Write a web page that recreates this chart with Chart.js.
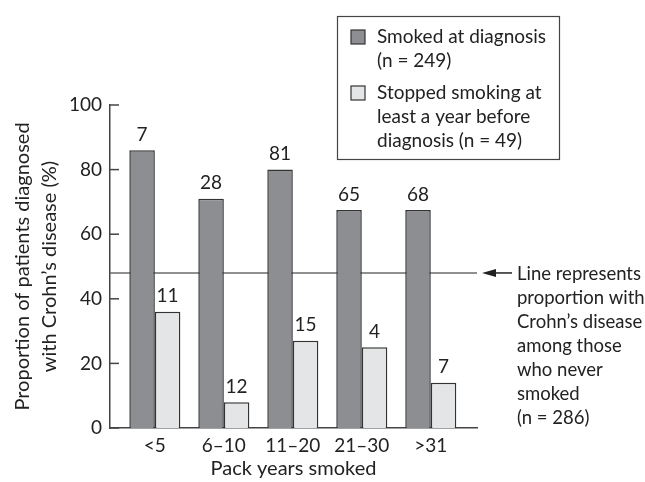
<!DOCTYPE html>
<html>
<head>
<meta charset="utf-8">
<script src="https://cdn.jsdelivr.net/npm/chart.js@4.4.1/dist/chart.umd.min.js"></script>
<style>
  html, body { margin: 0; padding: 0; background: #fff; }
  #wrap { width: 645px; height: 482px; }
</style>
</head>
<body>
<div id="wrap"><canvas id="chart"></canvas></div>
<script>
const categories = ['<5', '6–10', '11–20', '21–30', '>31'];
const smokedAtDiagnosis = [86, 71, 80, 67.5, 67.5];
const stoppedSmoking = [36, 8, 27, 25, 14];
const smokedCounts = [7, 28, 81, 65, 68];
const stoppedCounts = [11, 12, 15, 4, 7];
const neverSmoked = 48;
const legendText = [
    ['Smoked at diagnosis', '(n = 249)'],
    ['Stopped smoking at', 'least a year before', 'diagnosis (n = 49)']
];
const noteText = ['Line represents', 'proportion with', 'Crohn’s disease', 'among those', 'who never', 'smoked', '(n = 286)'];

const FONT = 'Lato';
const darkFill = '#8d8e92';
const lightFill = '#e4e5e7';
const ink = '#222';

// horizontal reference line, drawn behind the bars
const refLine = {
    id: 'refLine',
    beforeDatasetsDraw(chart) {
        const { ctx, chartArea, scales } = chart;
        const y = scales.y.getPixelForValue(neverSmoked);
        ctx.save();
        ctx.strokeStyle = '#6b6b6b';
        ctx.lineWidth = 1.5;
        ctx.beginPath();
        ctx.moveTo(chartArea.left, y);
        ctx.lineTo(chartArea.right, y);
        ctx.stroke();
        ctx.restore();
    },
    afterDraw(chart) {
        const { ctx, chartArea, scales } = chart;
        const y = scales.y.getPixelForValue(neverSmoked);
        const x0 = chartArea.right + 5;
        ctx.save();
        // arrow
        ctx.strokeStyle = ink;
        ctx.fillStyle = ink;
        ctx.lineWidth = 1.5;
        ctx.beginPath();
        ctx.moveTo(x0 + 12, y);
        ctx.lineTo(x0 + 30, y);
        ctx.stroke();
        ctx.beginPath();
        ctx.moveTo(x0, y);
        ctx.lineTo(x0 + 14, y - 4);
        ctx.lineTo(x0 + 14, y + 4);
        ctx.closePath();
        ctx.fill();
        // note text
        ctx.font = '18.5px ' + FONT;
        ctx.textBaseline = 'middle';
        ctx.textAlign = 'left';
        noteText.forEach((t, i) => ctx.fillText(t, x0 + 35, y + 1 + i * 24));
        ctx.restore();
    }
};

// inward tick marks on the y axis
const yTickMarks = {
    id: 'yTickMarks',
    afterDraw(chart) {
        const { ctx, chartArea, scales } = chart;
        ctx.save();
        ctx.strokeStyle = '#444';
        ctx.lineWidth = 1.5;
        scales.y.ticks.forEach(t => {
            const y = scales.y.getPixelForValue(t.value);
            ctx.beginPath();
            ctx.moveTo(chartArea.left, y);
            ctx.lineTo(chartArea.left + 9, y);
            ctx.stroke();
        });
        ctx.restore();
    }
};

// patient counts above each bar
const barLabels = {
    id: 'barLabels',
    afterDatasetsDraw(chart) {
        const { ctx } = chart;
        const counts = [smokedCounts, stoppedCounts];
        ctx.save();
        ctx.font = '19px ' + FONT;
        ctx.fillStyle = ink;
        ctx.textAlign = 'center';
        ctx.textBaseline = 'bottom';
        chart.data.datasets.forEach((ds, d) => {
            chart.getDatasetMeta(d).data.forEach((bar, i) => {
                ctx.fillText(String(counts[d][i]), bar.x, bar.y - 6);
            });
        });
        ctx.restore();
    }
};

// boxed legend with wrapped lines
const legendBox = {
    id: 'legendBox',
    afterDraw(chart) {
        const { ctx } = chart;
        const fills = [darkFill, lightFill];
        ctx.save();
        ctx.strokeStyle = '#444';
        ctx.lineWidth = 1.2;
        ctx.strokeRect(337.5, 16.5, 222, 143);
        ctx.font = '19px ' + FONT;
        ctx.fillStyle = ink;
        ctx.textBaseline = 'middle';
        let y = 37;
        legendText.forEach((lines, k) => {
            ctx.fillStyle = fills[k];
            ctx.fillRect(351, y - 7, 14, 14);
            ctx.strokeStyle = '#333';
            ctx.strokeRect(351, y - 7, 14, 14);
            ctx.fillStyle = ink;
            lines.forEach((t, i) => ctx.fillText(t, 377, y + i * 24));
            y += lines.length * 24 + 8;
        });
        ctx.restore();
    }
};

const ctx = document.getElementById('chart').getContext('2d');
new Chart(ctx, {
    type: 'bar',
    data: {
        datasets: [{
            label: legendText[0].join(' '),
            data: smokedAtDiagnosis.map((v, i) => ({ x: i, y: v })),
            backgroundColor: darkFill,
            borderColor: '#333',
            borderWidth: 1.5
        }, {
            label: legendText[1].join(' '),
            data: stoppedSmoking.map((v, i) => ({ x: i, y: v })),
            backgroundColor: lightFill,
            borderColor: '#333',
            borderWidth: 1.5
        }]
    },
    options: {
        responsive: true,
        maintainAspectRatio: false,
        animation: false,
        categoryPercentage: 0.74,
        barPercentage: 1,
        layout: { padding: { top: 105, right: 168, bottom: 0, left: 0 } },
        plugins: {
            legend: { display: false },
            tooltip: { enabled: false }
        },
        scales: {
            x: {
                type: 'linear',
                offset: false,
                min: -0.65,
                max: 4.67,
                afterBuildTicks: s => { s.ticks = categories.map((c, i) => ({ value: i })); },
                afterFit: s => { s.height = 54; },
                grid: { display: false, drawTicks: false },
                border: { display: true, color: '#444', width: 1.5 },
                ticks: {
                    autoSkip: false,
                    maxRotation: 0,
                    padding: 6,
                    color: ink,
                    font: { family: FONT, size: 19 },
                    callback: v => categories[v]
                },
                title: {
                    display: true,
                    text: 'Pack years smoked',
                    color: ink,
                    font: { family: FONT, size: 20 },
                    padding: { top: 0, bottom: 1 }
                }
            },
            y: {
                min: 0,
                max: 100,
                afterFit: s => { s.width = 110; },
                grid: { display: false, drawTicks: false },
                border: { display: true, color: '#444', width: 1.5 },
                ticks: {
                    stepSize: 20,
                    padding: 8,
                    color: ink,
                    font: { family: FONT, size: 19 }
                },
                title: {
                    display: true,
                    text: ['Proportion of patients diagnosed', 'with Crohn’s disease (%)'],
                    color: ink,
                    font: { family: FONT, size: 20, lineHeight: 1.35 },
                    padding: { top: 9, bottom: 0 }
                }
            }
        }
    },
    plugins: [refLine, yTickMarks, barLabels, legendBox]
});
</script>
</body>
</html>
